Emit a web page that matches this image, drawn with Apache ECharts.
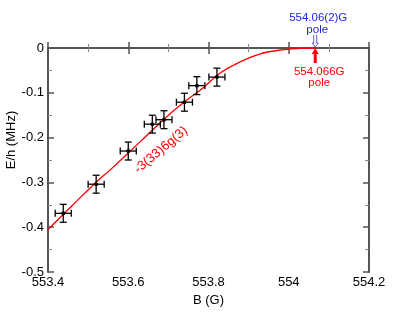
<!DOCTYPE html>
<html>
<head>
<meta charset="utf-8">
<script src="https://cdn.jsdelivr.net/npm/echarts@6/dist/echarts.min.js"></script>
<style>
html,body{margin:0;padding:0;background:#fff;}
#chart{width:415px;height:321px;}
</style>
</head>
<body>
<div id="chart"></div>
<script>
// measured points (B in G, E/h in MHz) with error bars
var bVals=[553.438,553.52,553.60,553.66,553.689,553.74,553.771,553.821];
var eVals=[-0.369,-0.304,-0.230,-0.170,-0.160,-0.121,-0.084,-0.065];
var bErr=[0.02,0.02,0.02,0.02,0.02,0.02,0.02,0.02];
var eErr=[0.02,0.02,0.02,0.02,0.02,0.02,0.02,0.02];
// fitted curve
var curveB=[553.40,553.46,553.525,553.555,553.63,553.70,553.746,553.78,553.829,553.879,553.929,553.979,554.03,554.066];
var curveE=[-0.405,-0.352,-0.295,-0.272,-0.209,-0.150,-0.116,-0.094,-0.056,-0.031,-0.013,-0.0045,-0.001,0];
var poleB=554.066;

var font='"Liberation Sans", Arial, sans-serif';

var pts=[];
for(var i=0;i<bVals.length;i++){
    pts.push([bVals[i],eVals[i],bErr[i],eErr[i]]);
}
var curve=[];
for(var i=0;i<curveB.length;i++){
    curve.push([curveB[i],curveE[i]]);
}

var mychart=echarts.init(document.getElementById('chart'));

var axisLine={show:true,lineStyle:{color:'#555',width:2}};
var xCommon={type:'value',min:553.4,max:554.2,interval:0.2,
    axisLine:axisLine,
    axisTick:{inside:true,length:6,lineStyle:{color:'#555',width:1.5}},
    minorTick:{show:true,splitNumber:2,length:4,lineStyle:{color:'#888',width:1}},
    splitLine:{show:false}};
var yCommon={type:'value',min:-0.5,max:0,interval:0.1,
    axisLine:axisLine,
    axisTick:{inside:true,length:6,lineStyle:{color:'#555',width:1.5}},
    minorTick:{show:true,splitNumber:2,length:4,lineStyle:{color:'#888',width:1}},
    splitLine:{show:false}};

var option={
    animation:false,
    grid:{left:48,top:48,right:46,bottom:49},
    xAxis:[
        Object.assign({},xCommon,{position:'bottom',
            name:'B (G)',nameLocation:'middle',nameGap:22,
            nameTextStyle:{fontFamily:font,fontSize:13,color:'#000'},
            axisLabel:{fontFamily:font,fontSize:13,color:'#000',margin:4}}),
        Object.assign({},xCommon,{position:'top',axisLabel:{show:false}})
    ],
    yAxis:[
        Object.assign({},yCommon,{position:'left',
            axisLabel:{fontFamily:font,fontSize:13,color:'#000',margin:4}}),
        Object.assign({},yCommon,{position:'right',axisLabel:{show:false}})
    ],
    series:[
        {
            type:'line',
            data:curve,
            smooth:0.35,
            showSymbol:false,
            lineStyle:{color:'#ff0000',width:1.3},
            z:2
        },
        {
            type:'custom',
            data:pts,
            z:3,
            renderItem:function(params,api){
                var x=api.value(0),y=api.value(1),dx=api.value(2),dy=api.value(3);
                var c=api.coord([x,y]);
                var l=api.coord([x-dx,y]),r=api.coord([x+dx,y]);
                var t=api.coord([x,y+dy]),b=api.coord([x,y-dy]);
                var cap=3.5;
                var st={stroke:'#000',lineWidth:1.3};
                return {type:'group',children:[
                    {type:'line',shape:{x1:l[0],y1:c[1],x2:r[0],y2:c[1]},style:st},
                    {type:'line',shape:{x1:c[0],y1:t[1],x2:c[0],y2:b[1]},style:st},
                    {type:'line',shape:{x1:l[0],y1:c[1]-cap,x2:l[0],y2:c[1]+cap},style:st},
                    {type:'line',shape:{x1:r[0],y1:c[1]-cap,x2:r[0],y2:c[1]+cap},style:st},
                    {type:'line',shape:{x1:c[0]-cap,y1:t[1],x2:c[0]+cap,y2:t[1]},style:st},
                    {type:'line',shape:{x1:c[0]-cap,y1:b[1],x2:c[0]+cap,y2:b[1]},style:st},
                    {type:'circle',shape:{cx:c[0],cy:c[1],r:2},style:{fill:'#000'}}
                ]};
            }
        }
    ]
};
mychart.setOption(option);

// annotations placed from the axis scale
var p=mychart.convertToPixel({xAxisIndex:0,yAxisIndex:0},[poleB,0]);
var px=p[0],py=p[1];
mychart.setOption({
    graphic:[
        {type:'text',x:11,y:140,rotation:Math.PI/2,
            style:{text:'E/h (MHz)',font:'13px '+font,fill:'#000',align:'center',verticalAlign:'middle'}},
        {type:'text',x:161,y:150,rotation:40*Math.PI/180,
            style:{text:'-3(33)6g(3)',font:'13px '+font,fill:'#ff0000',align:'center',verticalAlign:'middle'}},
        {type:'text',x:px+3,y:18,style:{text:'554.06(2)G',font:'11.5px '+font,fill:'#2222ee',align:'center',verticalAlign:'middle'}},
        {type:'text',x:px+2,y:30,style:{text:'pole',font:'11.5px '+font,fill:'#2222ee',align:'center',verticalAlign:'middle'}},
        // hollow blue arrow pointing down
        {type:'polyline',shape:{points:[[px-1.5,py-13],[px-1.5,py-5],[px-3,py-5],[px,py-1],[px+3,py-5],[px+1.5,py-5],[px+1.5,py-13]]},
            style:{stroke:'#3333aa',fill:'none',lineWidth:0.8}},
        // filled red arrow pointing up
        {type:'line',shape:{x1:px,y1:py+15,x2:px,y2:py+5},style:{stroke:'#ff0000',lineWidth:3}},
        {type:'polygon',shape:{points:[[px-3.5,py+6],[px,py],[px+3.5,py+6]]},style:{fill:'#ff0000'}},
        {type:'text',x:px+4,y:py+24,style:{text:'554.066G',font:'11.5px '+font,fill:'#ff0000',align:'center',verticalAlign:'middle'}},
        {type:'text',x:px+4,y:py+35,style:{text:'pole',font:'11.5px '+font,fill:'#ff0000',align:'center',verticalAlign:'middle'}}
    ]
});
</script>
</body>
</html>
